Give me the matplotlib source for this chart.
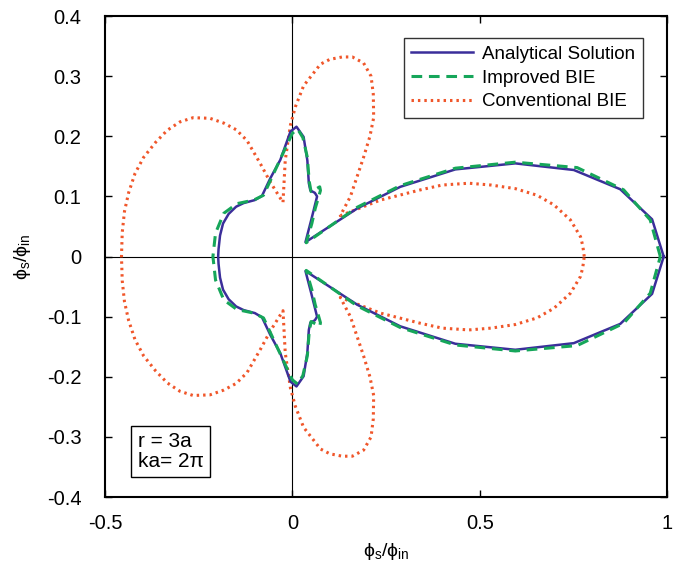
import numpy as np
import matplotlib
matplotlib.use('Agg')
import matplotlib.pyplot as plt

plt.rcParams['font.family'] = ['Liberation Sans', 'DejaVu Sans']
plt.rcParams['mathtext.fontset'] = 'custom'
plt.rcParams['mathtext.rm'] = 'Liberation Sans'
plt.rcParams['mathtext.it'] = 'Liberation Sans'
plt.rcParams['mathtext.fallback'] = 'cm'

# upper halves of the patterns (the patterns are symmetric about y = 0)
# analytical solution
ana_x = [0.991, 0.960, 0.875, 0.751, 0.595, 0.435, 0.288, 0.173, 0.035, 0.050,
         0.062, 0.066, 0.060, 0.048, 0.044, 0.040, 0.030, 0.011, -0.005, -0.032,
         -0.059, -0.081, -0.100, -0.130, -0.150, -0.170, -0.185, -0.193, -0.197, -0.198]
ana_y = [0.0, 0.062, 0.112, 0.144, 0.155, 0.145, 0.116, 0.080, 0.024, 0.060,
         0.090, 0.100, 0.106, 0.110, 0.122, 0.160, 0.199, 0.216, 0.208, 0.161,
         0.130, 0.101, 0.094, 0.089, 0.083, 0.071, 0.055, 0.035, 0.012, 0.0]

# improved BIE
imp_x = [0.982, 0.955, 0.884, 0.760, 0.595, 0.435, 0.288, 0.173, 0.037, 0.052,
         0.061, 0.070, 0.075, 0.073, 0.062, 0.050, 0.045, 0.040, 0.028, 0.014,
         0.000, -0.030, -0.059, -0.077, -0.103, -0.148, -0.183, -0.205, -0.212]
imp_y = [0.0, 0.061, 0.111, 0.148, 0.157, 0.147, 0.118, 0.082, 0.023, 0.055,
         0.080, 0.099, 0.110, 0.116, 0.112, 0.108, 0.125, 0.165, 0.198, 0.212,
         0.205, 0.165, 0.126, 0.102, 0.094, 0.088, 0.072, 0.039, 0.0]

# conventional BIE
con_x = [0.779, 0.775, 0.769, 0.742, 0.698, 0.653, 0.595, 0.530, 0.471, 0.400,
         0.342, 0.235, 0.128, 0.155, 0.190, 0.207, 0.217, 0.216, 0.210, 0.190,
         0.160, 0.133, 0.100, 0.075, 0.030, 0.008, -0.005, -0.012, -0.019, -0.025,
         -0.035, -0.059, -0.085, -0.121, -0.150, -0.183, -0.220, -0.265, -0.300, -0.334,
         -0.365, -0.397, -0.420, -0.437, -0.448, -0.454, -0.456]
con_y = [0.0, 0.018, 0.033, 0.061, 0.086, 0.102, 0.113, 0.119, 0.122, 0.119,
         0.111, 0.094, 0.068, 0.100, 0.165, 0.200, 0.231, 0.270, 0.300, 0.322,
         0.332, 0.332, 0.328, 0.320, 0.284, 0.249, 0.219, 0.190, 0.160, 0.090,
         0.100, 0.124, 0.154, 0.193, 0.211, 0.222, 0.230, 0.231, 0.224, 0.210,
         0.190, 0.165, 0.138, 0.106, 0.075, 0.040, 0.0]


def closed(xs, ys):
    # mirror the upper half to get the full closed curve
    xs = np.array(xs)
    ys = np.array(ys)
    return np.concatenate([xs, xs[::-1]]), np.concatenate([ys, -ys[::-1]])


fig = plt.figure(figsize=(6.8, 5.74), dpi=100)
ax = fig.add_axes([0.1544, 0.134, 0.8266, 0.838])

ax.axhline(0, color='black', lw=0.8, zorder=1)
ax.axvline(0, color='black', lw=0.8, zorder=1)

x, y = closed(ana_x, ana_y)
ax.plot(x, y, color='#3b2e9a', lw=1.8, label='Analytical Solution', zorder=3)
x, y = closed(imp_x, imp_y)
ax.plot(x, y, color='#16a65a', lw=2.2, ls=(0, (3.5, 2.2)), label='Improved BIE', zorder=4)
x, y = closed(con_x, con_y)
ax.plot(x, y, color='#f0562a', lw=2.2, ls=(0, (0.8, 1.3)), label='Conventional BIE', zorder=2)

ax.set_xlim(-0.5, 1)
ax.set_ylim(-0.4, 0.4)
ax.set_xticks([-0.5, 0, 0.5, 1])
ax.set_xticklabels(['-0.5', '0', '0.5', '1'])
ax.set_yticks(np.arange(-0.4, 0.41, 0.1))
ax.set_yticklabels(['-0.4', '-0.3', '-0.2', '-0.1', '0', '0.1', '0.2', '0.3', '0.4'])
ax.tick_params(direction='in', top=True, right=True, length=5, width=1,
               labelsize=14.5)
ax.tick_params(axis='y', pad=17)
ax.tick_params(axis='x', pad=12)
for s in ax.spines.values():
    s.set_linewidth(1.5)

lab = r'$\mathregular{ϕ_s/ϕ_{in}}$'
ax.set_xlabel(lab, fontsize=14, labelpad=6)
ax.set_ylabel(lab, fontsize=14, labelpad=10)

leg = ax.legend(loc='upper right', fontsize=13.5, frameon=True, fancybox=False,
                edgecolor='black', handlelength=3.3, borderpad=0.4,
                labelspacing=0.35, handletextpad=0.5, borderaxespad=0,
                bbox_to_anchor=(0.957, 0.954))
leg.get_frame().set_linewidth(1.0)

ax.text(0.058, 0.055, 'r = 3a\nka= 2π', transform=ax.transAxes, fontsize=15,
        va='bottom', ha='left', linespacing=1.05,
        bbox=dict(boxstyle='square,pad=0.3', fc='white', ec='black', lw=1.0))

fig.savefig('out.png', dpi=100)
